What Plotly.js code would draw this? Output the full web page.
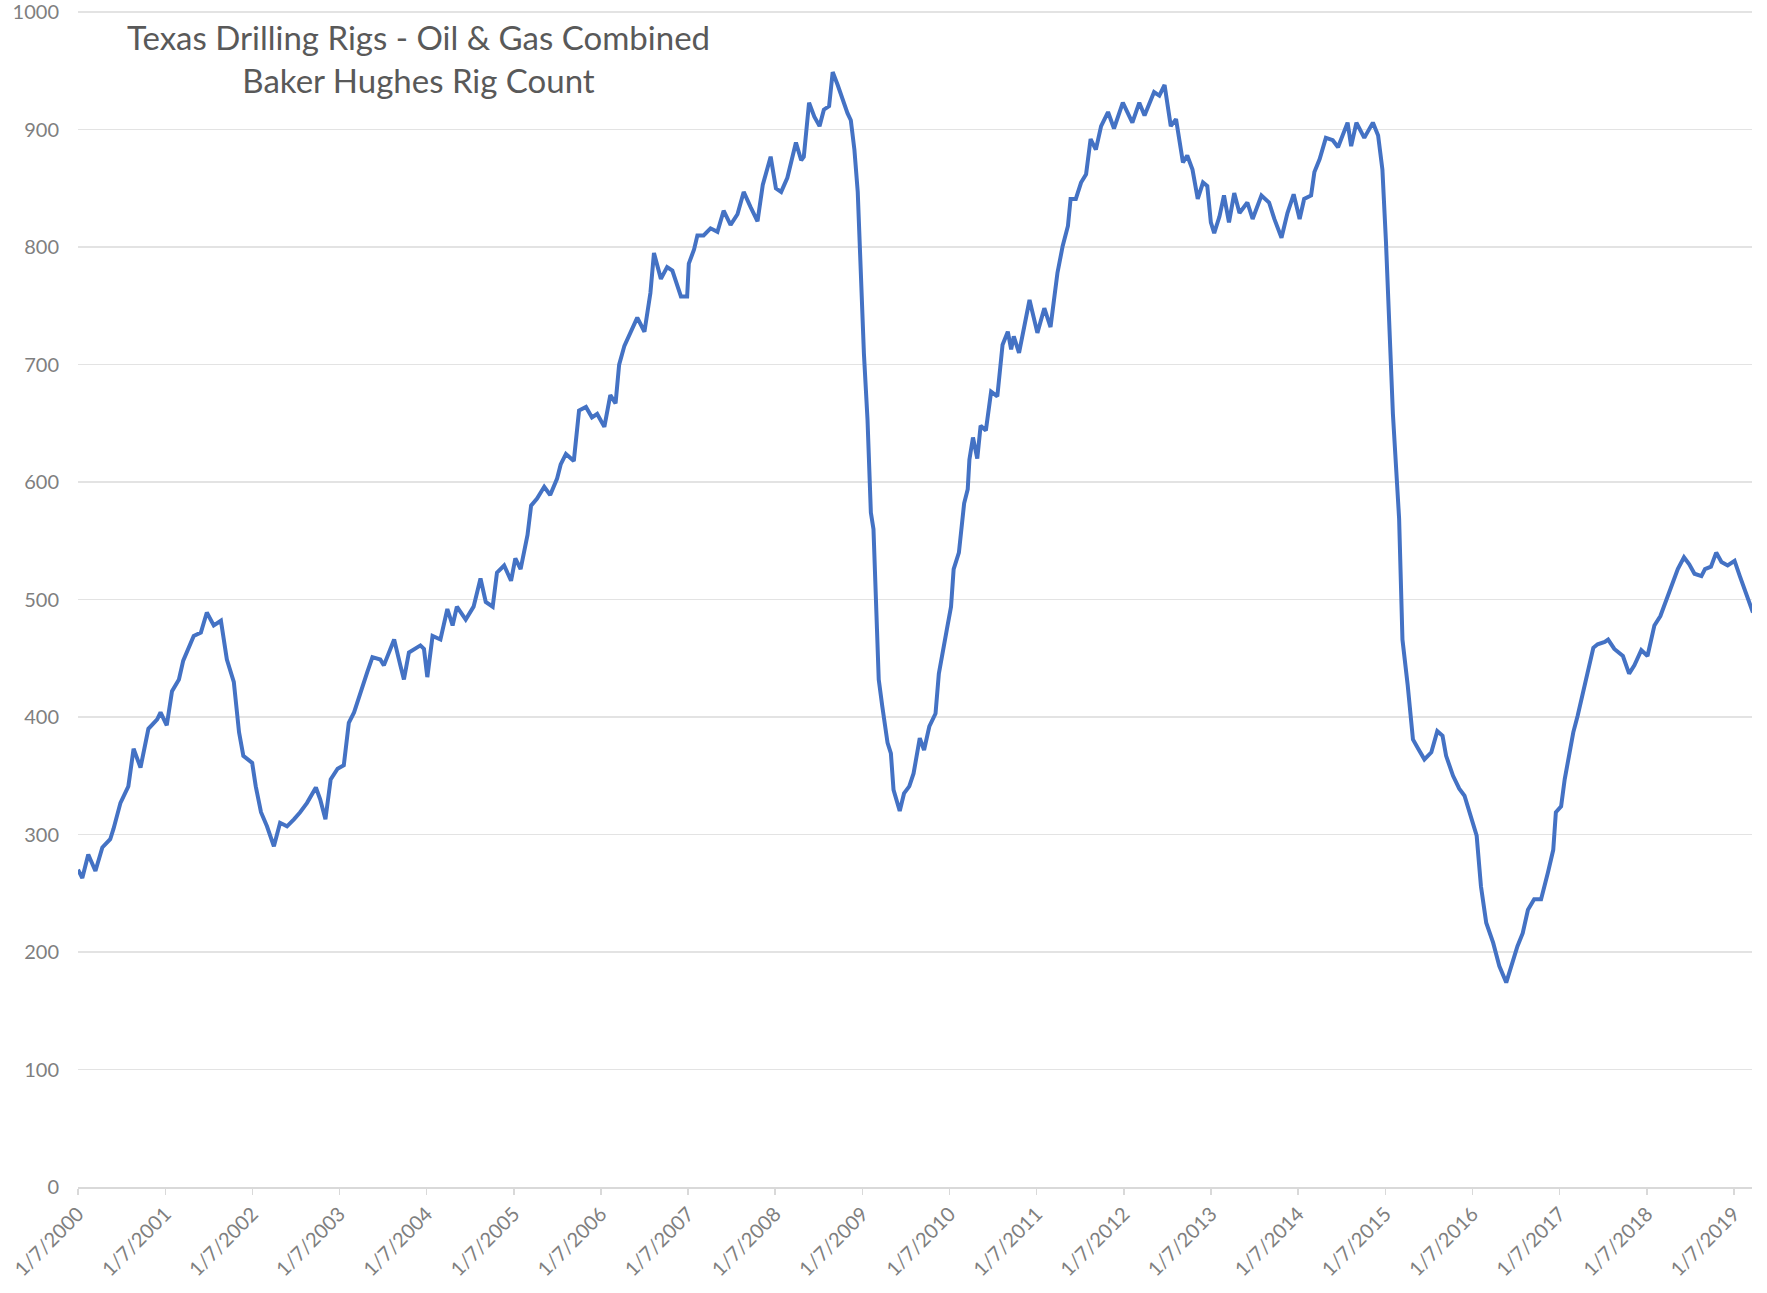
<!DOCTYPE html>
<html>
<head>
<meta charset="utf-8">
<script src="https://cdn.plot.ly/plotly-3.0.1.min.js"></script>
<style>html,body{margin:0;padding:0;background:#fff;}#chart{width:1767px;height:1293px;}</style>
</head>
<body>
<div id="chart"></div>
<script>
// Decimal years measured from 1/7 of each year (e.g. 2000.50 = half a year after 1/7/2000)
const weekYears = [
2000.00,2000.05,2000.12,2000.20,2000.28,2000.37,2000.41,2000.49,2000.58,2000.64,2000.72,2000.81,2000.91,2000.95,
2001.02,2001.08,2001.16,2001.21,2001.33,2001.41,2001.48,2001.56,2001.64,2001.71,2001.79,2001.85,2001.90,
2002.00,2002.04,2002.10,2002.17,2002.25,2002.32,2002.40,2002.48,2002.55,2002.63,2002.73,2002.78,2002.84,2002.90,2002.98,
2003.05,2003.11,2003.17,2003.24,2003.32,2003.38,2003.47,2003.51,2003.57,2003.63,2003.70,2003.74,2003.80,2003.86,2003.93,2003.97,
2004.01,2004.07,2004.16,2004.24,2004.30,2004.35,2004.45,2004.54,2004.62,2004.68,2004.76,2004.81,2004.89,2004.97,
2005.02,2005.08,2005.16,2005.20,2005.27,2005.35,2005.42,2005.50,2005.54,2005.60,2005.69,2005.75,2005.83,2005.90,2005.96,
2006.04,2006.11,2006.17,2006.21,2006.27,2006.34,2006.42,2006.50,2006.57,2006.61,2006.69,2006.76,2006.82,2006.92,2006.99,
2007.01,2007.07,2007.11,2007.18,2007.26,2007.34,2007.41,2007.49,2007.57,2007.64,2007.72,2007.80,2007.86,2007.95,
2008.01,2008.07,2008.14,2008.24,2008.30,2008.33,2008.39,2008.45,2008.51,2008.56,2008.62,2008.66,2008.72,2008.77,2008.83,2008.87,2008.91,2008.95,2008.98,
2009.02,2009.06,2009.10,2009.13,2009.16,2009.19,2009.23,2009.29,2009.33,2009.36,2009.43,2009.48,2009.54,2009.59,2009.66,2009.71,2009.77,2009.84,2009.88,2009.92,2009.97,
2010.02,2010.05,2010.11,2010.17,2010.21,2010.23,2010.27,2010.32,2010.36,2010.42,2010.48,2010.55,2010.61,2010.67,2010.71,2010.74,2010.80,2010.92,
2011.01,2011.09,2011.16,2011.24,2011.30,2011.36,2011.39,2011.45,2011.51,2011.57,2011.62,2011.68,2011.74,2011.82,2011.89,2011.99,
2012.10,2012.18,2012.24,2012.35,2012.41,2012.47,2012.54,2012.60,2012.68,2012.73,2012.79,2012.85,2012.91,2012.96,
2013.00,2013.04,2013.10,2013.15,2013.21,2013.27,2013.33,2013.42,2013.48,2013.58,2013.67,2013.73,2013.81,2013.88,2013.95,
2014.02,2014.07,2014.15,2014.19,2014.25,2014.32,2014.40,2014.46,2014.51,2014.57,2014.61,2014.67,2014.76,2014.86,2014.92,2014.97,
2015.01,2015.05,2015.09,2015.16,2015.20,2015.26,2015.32,2015.38,2015.45,2015.53,2015.60,2015.66,2015.70,2015.78,2015.85,2015.91,2015.97,
2016.05,2016.10,2016.16,2016.24,2016.31,2016.39,2016.45,2016.52,2016.58,2016.64,2016.71,2016.79,2016.87,2016.93,2016.96,
2017.02,2017.06,2017.12,2017.16,2017.21,2017.27,2017.33,2017.39,2017.44,2017.52,2017.56,2017.63,2017.73,2017.80,2017.86,2017.94,
2018.01,2018.09,2018.16,2018.22,2018.28,2018.36,2018.43,2018.49,2018.55,2018.63,2018.67,2018.74,2018.80,2018.86,2018.93,
2019.01,2019.07,2019.14,2019.22
];
const rigCount = [
270,263,283,269,289,296,305,327,341,373,357,390,398,404,
393,422,432,448,469,472,489,478,482,449,430,387,367,
361,341,319,307,290,310,307,313,319,327,340,330,313,347,356,
359,395,404,421,438,451,449,444,455,466,444,432,455,458,461,458,
434,469,466,492,478,494,483,494,518,498,494,523,529,516,
535,526,555,580,586,596,589,603,615,624,618,661,664,655,658,
647,674,667,700,716,728,740,728,761,795,773,783,780,758,758,
786,798,810,810,816,813,831,819,828,847,834,822,853,877,
850,847,859,889,874,877,923,911,903,917,920,949,938,926,914,908,883,847,786,
709,653,574,560,483,432,409,378,369,338,320,335,341,352,382,372,392,403,437,452,474,
494,526,540,582,594,619,638,620,648,644,677,673,717,728,713,724,710,755,
727,748,732,778,801,818,841,841,855,862,892,883,903,915,901,923,
906,923,912,932,929,938,903,909,872,878,866,841,855,852,
821,812,826,844,821,846,829,838,824,844,838,824,808,829,845,
824,841,844,864,875,893,891,885,895,906,886,906,893,906,895,866,
804,732,658,569,466,427,381,373,364,370,388,384,367,350,339,333,317,
299,256,225,208,188,174,188,205,216,236,245,245,268,287,319,
324,347,370,387,401,421,441,459,462,464,466,458,452,437,444,457,
452,478,486,498,509,526,536,530,522,520,526,528,540,532,529,
533,520,506,489
];
const tickYears = [2000,2001,2002,2003,2004,2005,2006,2007,2008,2009,2010,2011,2012,2013,2014,2015,2016,2017,2018,2019];
const tickLabels = tickYears.map(y => '1/7/' + y);
const yTicks = [0,100,200,300,400,500,600,700,800,900,1000];
const chartTitle = 'Texas Drilling Rigs - Oil &amp; Gas Combined<br>Baker Hughes Rig Count';

const DAY = 86400000;
const base = Date.UTC(2000, 0, 7);
function toDate(y) {
  const d = new Date(base + (y - 2000) * 365.25 * DAY);
  return d.toISOString().slice(0, 10);
}
const xDates = weekYears.map(toDate);
const tickVals = tickYears.map(y => y + '-01-07');

const trace = {
  x: xDates, y: rigCount, type: 'scatter', mode: 'lines',
  line: {color: '#4472C4', width: 4}, hoverinfo: 'x+y'
};

const layout = {
  width: 1767, height: 1293,
  margin: {l: 78, r: 15, t: 11, b: 106},
  paper_bgcolor: '#ffffff', plot_bgcolor: '#ffffff',
  showlegend: false,
  font: {family: 'Lato, "Open Sans", sans-serif', color: '#7f7f7f'},
  annotations: [{
    text: chartTitle,
    font: {family: 'Lato, "Open Sans", sans-serif', size: 33, color: '#595959'},
    xref: 'paper', yref: 'paper',
    x: 0.2037, xanchor: 'center', y: 0.960, yanchor: 'middle',
    align: 'center', showarrow: false
  }],
  xaxis: {
    type: 'date',
    range: ['2000-01-07', '2019-03-24'],
    tickmode: 'array', tickvals: tickVals, ticktext: tickLabels,
    tickangle: -45,
    tickfont: {size: 20, color: '#7f7f7f'},
    ticks: 'outside', ticklen: 6, tickcolor: '#d9d9d9', tickwidth: 1.5,
    showgrid: false, zeroline: false,
    showline: true, linecolor: '#d9d9d9', linewidth: 1.5,
    ticklabeloverflow: 'allow'
  },
  yaxis: {
    range: [0, 1001],
    tickmode: 'array', tickvals: yTicks,
    tickfont: {size: 20, color: '#7f7f7f'},
    ticks: '', ticklabelstandoff: 18,
    ticklabeloverflow: 'allow',
    showgrid: true, gridcolor: '#e3e3e3', gridwidth: 1.5,
    zeroline: false, showline: false
  }
};

Plotly.newPlot('chart', [trace], layout, {displayModeBar: false, staticPlot: true});
</script>
</body>
</html>
